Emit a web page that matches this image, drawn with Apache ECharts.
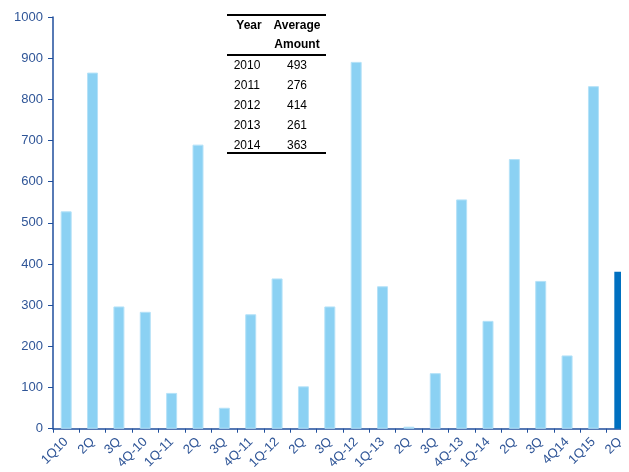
<!DOCTYPE html>
<html>
<head>
<meta charset="utf-8">
<script src="https://cdn.jsdelivr.net/npm/echarts@6/dist/echarts.min.js"></script>
<style>
body { margin: 0; background: #fff; }
#wrap { width: 621px; height: 472px; overflow: hidden; }
#draw { width: 633px; height: 472px; }
</style>
</head>
<body>
<div id="wrap"><div id="draw"></div></div>
<script>
// quarters on the x axis
var quarters = [ '1Q10', '2Q', '3Q', '4Q-10', '1Q-11', '2Q', '3Q', '4Q-11', '1Q-12', '2Q', '3Q',
		'4Q-12', '1Q-13', '2Q', '3Q', '4Q-13', '1Q-14', '2Q', '3Q', '4Q14', '1Q15', '2Q' ];
var amounts = [ 528, 865, 297, 284, 87, 690, 51, 278, 365, 103, 297, 891, 346, 5, 135, 557,
		262, 655, 359, 178, 832, 381 ];
var yTicks = [ 0, 1000, 100 ];
// the little table
var years = [ '2010', '2011', '2012', '2013', '2014' ];
var averages = [ 493, 276, 414, 261, 363 ];

var myChart = echarts.init(document.getElementById('draw'));
var font = '"Liberation Sans", Arial, sans-serif';
var blue = '#2F5597';

var data = amounts.map(function(v, i) {
	if (i == amounts.length - 1) {
		return { value : v, itemStyle : { color : '#0070C0', borderWidth : 0 } };
	}
	return v;
});

// table drawn with graphic
var tx = 227, tw = 99, ty = 15;
var g = [];
g.push({ type : 'line', shape : { x1 : tx, y1 : ty, x2 : tx + tw, y2 : ty }, style : { stroke : '#000', lineWidth : 2 } });
g.push({ type : 'line', shape : { x1 : tx, y1 : 55, x2 : tx + tw, y2 : 55 }, style : { stroke : '#000', lineWidth : 2 } });
g.push({ type : 'line', shape : { x1 : tx, y1 : 153, x2 : tx + tw, y2 : 153 }, style : { stroke : '#000', lineWidth : 2 } });
g.push({ type : 'text', x : 249, y : 26, style : { text : 'Year', font : 'bold 12px ' + font, fill : '#000', align : 'center', verticalAlign : 'middle' } });
g.push({ type : 'text', x : 297, y : 26, style : { text : 'Average', font : 'bold 12px ' + font, fill : '#000', align : 'center', verticalAlign : 'middle' } });
g.push({ type : 'text', x : 297, y : 45, style : { text : 'Amount', font : 'bold 12px ' + font, fill : '#000', align : 'center', verticalAlign : 'middle' } });
years.forEach(function(y, i) {
	g.push({ type : 'text', x : 247, y : 66 + i * 19.8, style : { text : y, font : '12px ' + font, fill : '#000', align : 'center', verticalAlign : 'middle' } });
	g.push({ type : 'text', x : 297, y : 66 + i * 19.8, style : { text : String(averages[i]), font : '12px ' + font, fill : '#000', align : 'center', verticalAlign : 'middle' } });
});

option = {
	animation : false,
	grid : {
		left : 53,
		top : 17,
		right : 0,
		bottom : 42
	},
	xAxis : {
		type : 'category',
		data : quarters,
		axisLine : { lineStyle : { color : '#1F4E9C', width : 1.5 } },
		axisTick : { show : true, length : 4, lineStyle : { color : '#1F4E9C' } },
		axisLabel : {
			interval : 0,
			rotate : 45,
			color : blue,
			fontFamily : font,
			fontSize : 13,
			margin : 11
		}
	},
	yAxis : {
		type : 'value',
		min : yTicks[0],
		max : yTicks[1],
		interval : yTicks[2],
		splitLine : { show : false },
		axisLine : { show : true, lineStyle : { color : '#1F4E9C', width : 1.5 } },
		axisTick : { show : true, length : 5, lineStyle : { color : '#1F4E9C' } },
		axisLabel : {
			color : blue,
			fontFamily : font,
			fontSize : 13,
			margin : 10,
			formatter : function(v) {
				return String(v);
			}
		}
	},
	series : [ {
		type : 'bar',
		data : data,
		barWidth : 11,
		itemStyle : {
			color : '#8BD1F3',
			borderColor : '#B5E2F8',
			borderWidth : 1
		}
	} ],
	graphic : g
};
myChart.setOption(option);
</script>
</body>
</html>
